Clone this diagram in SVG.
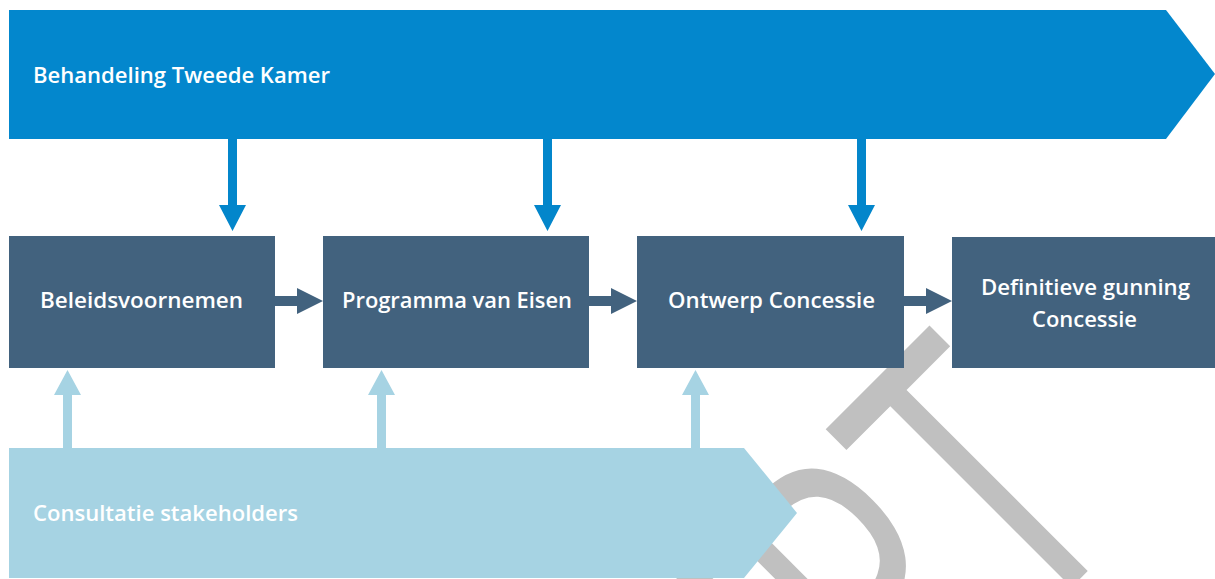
<svg xmlns="http://www.w3.org/2000/svg" width="1215" height="579" viewBox="0 0 1215 579">
<style>
.lbl{font-family:"Open Sans","Noto Sans","Liberation Sans",sans-serif;font-weight:600;font-size:21px;fill:#ffffff}
.box{fill:#42627e}
.wm{font-family:"Open Sans","Noto Sans","Liberation Sans",sans-serif;font-weight:400;font-size:400px;fill:#c0c0c0}
.dn{fill:#0386cb}
.up{fill:#a6d3e3}
.rt{fill:#42627e}
</style>
<rect width="1215" height="579" fill="#ffffff"/>
<g id="watermark">
<text class="wm" transform="rotate(-45) scale(0.69,1)" x="623" y="1173" text-anchor="end">CONCEPT</text>
</g>
<g id="behandeling">
<polygon points="9,10 1166,10 1215,74 1166,139 9,139" fill="#0387cd"/>
<text class="lbl" x="33" y="83" textLength="297" lengthAdjust="spacingAndGlyphs">Behandeling Tweede Kamer</text>
</g>
<g id="consultatie">
<polygon points="9,448 744,448 797,513 744,578 9,578" fill="#a6d3e3"/>
<text class="lbl" x="33" y="521" textLength="265" lengthAdjust="spacingAndGlyphs">Consultatie stakeholders</text>
</g>
<g id="connectors">
<path class="dn" d="M228,139 H237 V205 H246 L232.5,231 L219,205 H228 Z"/>
<path class="dn" d="M543,139 H552 V205 H561 L547.5,231 L534,205 H543 Z"/>
<path class="dn" d="M857,139 H866 V205 H875 L861.5,231 L848,205 H857 Z"/>
<path class="up" d="M63,448 H72 V395 H81 L67.5,370 L54,395 H63 Z"/>
<path class="up" d="M377,448 H386 V395 H395 L381.5,370 L368,395 H377 Z"/>
<path class="up" d="M691,448 H700 V395 H709 L695.5,370 L682,395 H691 Z"/>
<path class="rt" d="M275,296 H297 V288 L323,301 L297,314 V306 H275 Z"/>
<path class="rt" d="M589,296 H611 V288 L637,301 L611,314 V306 H589 Z"/>
<path class="rt" d="M904,296 H926 V288 L952,301 L926,314 V306 H904 Z"/>
</g>
<g id="beleidsvoornemen">
<rect class="box" x="9" y="236" width="266" height="132"/>
<text class="lbl" x="40" y="308" textLength="203" lengthAdjust="spacingAndGlyphs">Beleidsvoornemen</text>
</g>
<g id="programma">
<rect class="box" x="323" y="236" width="266" height="132"/>
<text class="lbl" x="342" y="308" textLength="230" lengthAdjust="spacingAndGlyphs">Programma van Eisen</text>
</g>
<g id="ontwerp">
<rect class="box" x="637" y="236" width="267" height="132"/>
<text class="lbl" x="668" y="308" textLength="207" lengthAdjust="spacingAndGlyphs">Ontwerp Concessie</text>
</g>
<g id="definitieve">
<rect class="box" x="952" y="237" width="263" height="131"/>
<text class="lbl" x="981" y="295" textLength="209" lengthAdjust="spacingAndGlyphs">Definitieve gunning</text>
<text class="lbl" x="1032" y="327" textLength="105" lengthAdjust="spacingAndGlyphs">Concessie</text>
</g>
</svg>
